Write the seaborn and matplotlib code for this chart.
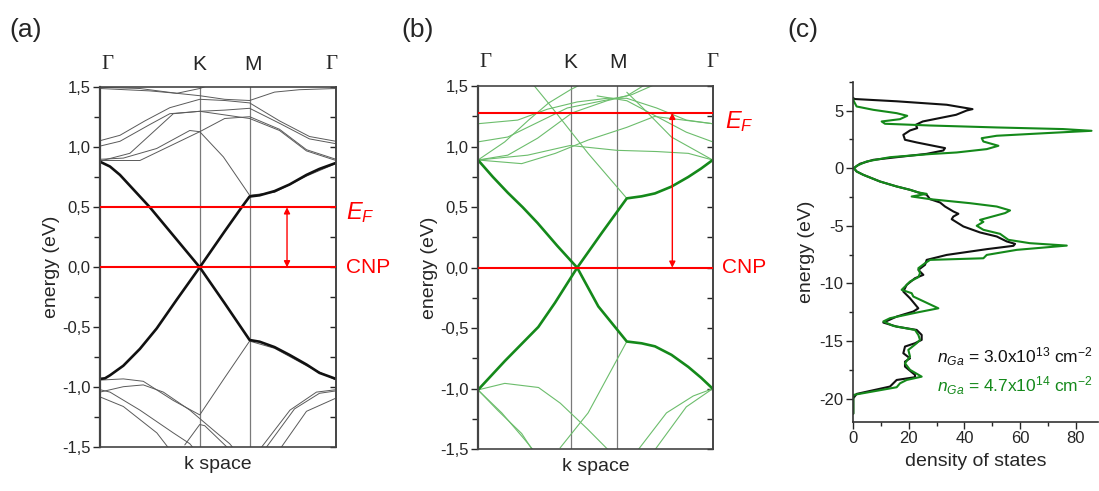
import numpy as np
import pandas as pd
import matplotlib
matplotlib.use('Agg')
import matplotlib.pyplot as plt
from matplotlib.ticker import MultipleLocator
import seaborn as sns

# path: Gamma=0, K=1, M=1.5, Gamma=2.366
kG2 = 2.366

# ---- panel (a) bands, 3.0e13 (k, E) ----
a_cb_k = [0, 0.1, 0.2, 0.3, 0.5, 0.75, 1.0, 1.25, 1.42, 1.5, 1.6, 1.75, 1.9, 2.07, 2.2, 2.366]
a_cb_E = [0.88, 0.84, 0.77, 0.68, 0.50, 0.25, 0.0, 0.30, 0.50, 0.59, 0.60, 0.635, 0.69, 0.77, 0.82, 0.87]
a_vb_k = [0, 0.05, 0.1, 0.234, 0.4, 0.568, 0.769, 1.0, 1.25, 1.5, 1.6, 1.75, 1.9, 2.07, 2.2, 2.366]
a_vb_E = [-0.93, -0.925, -0.90, -0.82, -0.68, -0.51, -0.27, 0.0, -0.30, -0.606, -0.62, -0.665, -0.73, -0.81, -0.88, -0.93]

a_thin = {
    't1': ([0, 0.2, 0.45, 0.7, 1.0, 1.25, 1.5, 1.8, 2.1, 2.366],
           [1.055, 1.10, 1.22, 1.33, 1.40, 1.39, 1.37, 1.22, 1.09, 1.05]),
    't2': ([0, 0.2, 0.5, 0.7, 1.0, 1.25, 1.5, 1.8, 2.1, 2.366],
           [1.01, 1.05, 1.19, 1.28, 1.30, 1.31, 1.325, 1.20, 1.07, 1.03]),
    't3': ([0, 0.234, 0.568, 0.9, 1.0, 1.237, 1.5, 1.75, 2.07, 2.366],
           [0.90, 0.91, 0.99, 1.14, 1.13, 0.92, 0.60, 0.625, 0.76, 0.865]),
    't4': ([0, 0.4, 0.75, 1.0, 1.25, 1.5, 1.8, 2.07, 2.366],
           [0.89, 0.89, 1.03, 1.13, 1.24, 1.255, 1.15, 0.98, 0.90]),
    't5': ([0, 0.5, 0.77, 1.0, 1.25, 1.5, 1.75, 2.0, 2.366],
           [1.49, 1.47, 1.45, 1.43, 1.40, 1.39, 1.46, 1.48, 1.49]),
    't6': ([0, 0.4, 0.77, 1.0, 1.1],
           [1.50, 1.49, 1.45, 1.49, 1.52]),
    't8': ([0, 0.3, 0.735, 1.0, 1.25, 1.5, 1.8, 2.07, 2.366],
           [0.885, 0.95, 1.28, 1.30, 1.27, 1.24, 1.14, 0.97, 0.89]),
    'l1': ([0, 0.234, 0.434, 0.735, 1.0, 1.25, 1.5, 1.75, 2.07, 2.366],
           [-0.94, -0.93, -0.95, -1.11, -1.23, -0.92, -0.615, -0.675, -0.82, -0.94]),
    'l2': ([0, 0.234, 0.434, 0.635, 0.9, 1.17, 1.30, 1.35],
           [-1.04, -0.995, -0.98, -1.04, -1.19, -1.38, -1.47, -1.52]),
    'l3': ([0, 0.1, 0.4, 0.735, 0.9, 0.95],
           [-1.02, -1.04, -1.19, -1.38, -1.47, -1.52]),
    'l4': ([0, 0.234, 0.57, 0.7],
           [-1.08, -1.16, -1.38, -1.52]),
    'l5': ([0.85, 1.0, 1.05, 1.3],
           [-1.48, -1.31, -1.32, -1.52]),
    'l6': ([1.60, 1.905, 2.17, 2.366], [-1.52, -1.19, -1.04, -1.02]),
    'l7': ([1.65, 1.95, 2.2, 2.366], [-1.52, -1.18, -1.05, -1.03]),
    'l8': ([1.80, 2.07, 2.366], [-1.52, -1.20, -1.09]),
}

# ---- panel (b) bands, 4.7e14 ----
b_cb_k = [0, 0.15, 0.3, 0.45, 0.6, 0.8, 1.0, 1.25, 1.5, 1.65, 1.784, 1.95, 2.12, 2.25, 2.366]
b_cb_E = [0.89, 0.75, 0.62, 0.50, 0.37, 0.18, 0.0, 0.29, 0.573, 0.59, 0.614, 0.67, 0.75, 0.82, 0.89]
b_vb_k = [0, 0.136, 0.272, 0.44, 0.608, 0.776, 1.0, 1.213, 1.5, 1.65, 1.784, 1.95, 2.12, 2.25, 2.366]
b_vb_E = [-1.01, -0.89, -0.77, -0.63, -0.49, -0.29, 0.0, -0.32, -0.61, -0.625, -0.65, -0.72, -0.82, -0.91, -1.0]

b_thin = {
    't1': ([0, 0.27, 0.51, 0.71, 0.93, 1.05], [0.89, 1.04, 1.22, 1.36, 1.47, 1.52]),
    't2': ([0.55, 0.71, 1.11, 1.5], [1.52, 1.36, 0.945, 0.573]),
    't3': ([0, 0.44, 0.78, 1.11, 1.5, 1.78, 2.366], [0.89, 0.86, 0.945, 1.055, 1.16, 1.25, 1.19]),
    't4': ([0, 0.4, 0.7, 1.0, 1.3, 1.5, 1.8, 2.1, 2.366], [1.19, 1.22, 1.31, 1.37, 1.40, 1.40, 1.32, 1.22, 1.19]),
    't5': ([0, 0.3, 0.6, 0.9, 1.2, 1.5, 1.7], [1.04, 1.08, 1.2, 1.32, 1.37, 1.42, 1.52]),
    't6': ([0, 0.3, 0.6, 0.95, 1.3, 1.55, 1.8], [0.89, 0.93, 1.07, 1.28, 1.38, 1.43, 1.52]),
    't7': ([1.5, 1.65, 1.95, 2.366], [1.45, 1.33, 1.08, 0.89]),
    't8': ([1.2, 1.5, 1.8, 2.1, 2.366], [1.42, 1.38, 1.25, 1.12, 1.04]),
    't9': ([0, 0.5, 0.93, 1.4, 1.8, 2.12, 2.366], [0.89, 0.93, 1.01, 0.97, 0.96, 0.945, 0.89]),
    'l1': ([0, 0.27, 0.61, 0.83, 1.1, 1.33], [-1.01, -0.956, -0.99, -1.12, -1.33, -1.52]),
    'l2': ([0, 0.2, 0.44, 0.56], [-1.01, -1.18, -1.37, -1.52]),
    'l3': ([0, 0.24, 0.47, 0.57], [-1.01, -1.20, -1.42, -1.52]),
    'l4': ([0.827, 1.11, 1.5], [-1.49, -1.20, -0.61]),
    'l5': ([1.60, 1.90, 2.17, 2.366], [-1.52, -1.20, -1.06, -1.0]),
    'l6': ([1.77, 2.10, 2.366], [-1.52, -1.15, -1.0]),
}

ytick_vals = [-1.5, -1.0, -0.5, 0.0, 0.5, 1.0, 1.5]
ytick_text = ['-1,5', '-1,0', '-0,5', '0,0', '0,5', '1,0', '1,5']

# ---- panel (c) DOS ----
dos_black_E = [6.1, 6.0, 5.8, 5.5, 5.12, 5.0, 4.63, 4.34, 4.05, 3.76, 3.47, 3.27, 2.89, 2.46, 2.23,
               1.94, 1.74, 1.53, 1.24, 0.95, 0.72, 0.38, 0.0, -0.29, -0.58, -1.16, -1.59, -1.88,
               -2.11, -2.31, -2.69, -2.98, -3.33, -3.76, -3.96, -4.2, -4.43, -5.06, -5.58, -5.93,
               -6.36, -6.57, -6.74, -7.03, -7.53, -7.96, -8.39, -8.83, -9.26, -9.55, -10.13,
               -10.71, -11.29, -12.16, -12.44, -12.88, -13.4, -13.75, -14.04, -14.47, -14.9,
               -15.19, -15.48, -16.06, -16.5, -16.79, -17.22, -17.94, -18.14, -18.38, -18.95,
               -19.59, -19.97, -21.3]
dos_black = [0, 0.3, 15.6, 33.6, 42.9, 40.8, 37, 31, 25, 22.5, 23, 20.4, 18, 18.6, 22.8,
             28.8, 33, 32.4, 26.4, 15.6, 7.2, 2.4, 0.2, 1.2, 3.6, 9.6, 15.6, 20.4,
             23.4, 26.4, 27.6, 31.2, 33, 36, 37.8, 36, 35.4, 39.6, 45.6, 51.6,
             55.2, 58.2, 57.6, 48, 33.6, 26.4, 25.8, 23.4, 25.2, 22.2, 19.2,
             18, 20.4, 23.4, 21.6, 15.6, 10.8, 15.6, 22.8, 24.6, 24.6,
             22.2, 18.6, 18, 20.4, 18.6, 18.6, 22.2, 22.2, 15.6, 13.2,
             1.2, 0, 0]

dos_green_E = [6.0, 5.8, 5.35, 5.06, 4.77, 4.54, 4.25, 4.05, 3.85, 3.70, 3.53, 3.39, 3.24, 3.04,
               2.81, 2.6, 2.31, 1.94, 1.65, 1.36, 1.22, 0.95, 0.58, 0.2, 0.0, -0.29, -0.58,
               -1.16, -1.59, -1.88, -2.11, -2.23, -2.46, -2.69, -3.04, -3.33, -3.67, -3.9,
               -4.49, -4.66, -5.0, -5.35, -5.7, -6.22, -6.51, -6.72, -7.09, -7.53, -7.82,
               -7.96, -8.25, -8.68, -9.12, -9.46, -9.84, -10.56, -10.85, -11.14, -12.16,
               -12.53, -13.02, -13.3, -13.69, -14.04, -14.47, -14.9, -15.19, -15.77, -16.35,
               -16.93, -17.5, -18.09, -18.38, -18.67, -19.01, -19.68, -21.3]
dos_green = [0, 0.2, 1.2, 7.2, 15.6, 19.4, 16.8, 10.2, 11.4, 27.6, 51.6, 75.5, 85.7, 69.5,
             51.6, 46.2, 46.8, 52.2, 48, 37.2, 27.6, 13.2, 4.8, 1.2, 0.2, 1.2, 3.6,
             9.6, 15.6, 20.4, 23.4, 26.4, 21, 27.6, 42, 51.6, 56.4, 54.6,
             45.6, 46.8, 44.4, 46.8, 52.8, 55.8, 63.5, 76.8, 58.8, 48, 46.8,
             27.6, 25.8, 23.4, 24, 23.4, 20.4, 17.4, 21, 21.6, 30.6,
             22.8, 13.2, 10.8, 14.4, 22.2, 23.4, 24, 22.8, 19.8, 20.4,
             18.6, 20.4, 24.6, 19.2, 16.8, 15.6, 0, 0]

green_dark = '#14891a'
green_light = '#6cbd6c'

sns.set_style('ticks')
plt.rcParams['font.family'] = ['Liberation Sans', 'DejaVu Sans']
plt.rcParams['mathtext.fontset'] = 'custom'
plt.rcParams['mathtext.rm'] = 'Liberation Sans'
plt.rcParams['mathtext.it'] = 'Liberation Sans:italic'


def band_frame(bands):
    rows = []
    for name, (ks, es) in bands.items():
        for k, e in zip(ks, es):
            rows.append((name, k, e))
    return pd.DataFrame(rows, columns=['band', 'k', 'E'])


def style_band_axes(ax, vlines, labels):
    ax.set_xlim(0, kG2)
    ax.set_ylim(-1.5, 1.5)
    ax.set_xticks([])
    ax.set_yticks(ytick_vals)
    ax.set_yticklabels(ytick_text)
    ax.yaxis.set_minor_locator(MultipleLocator(0.25))
    ax.tick_params(axis='y', which='major', direction='out', length=5, width=1, labelsize=12, pad=2)
    ax.tick_params(axis='y', which='minor', direction='out', length=4, width=1)
    for s in ax.spines.values():
        s.set_color('#444444')
        s.set_linewidth(1.2)
        s.set_visible(True)
    ax.spines['left'].set_linewidth(1.6)
    sec = ax.secondary_yaxis('right')
    sec.set_yticks(ytick_vals)
    sec.yaxis.set_minor_locator(MultipleLocator(0.25))
    sec.tick_params(which='both', direction='in', length=4, width=1, labelright=False)
    sec.spines['right'].set_color('#444444')
    sec.spines['right'].set_linewidth(1.2)
    for x in vlines:
        ax.axvline(x, color='#7a7a7a', lw=0.9, zorder=1)
    for x, t in labels:
        fam = ['Liberation Serif'] if t == 'Γ' else ['Liberation Sans']
        ax.text(x, 1.064, t, transform=ax.get_xaxis_transform(), ha='center', va='center',
                fontsize=15, family=fam)
    ax.set_xlabel('k space', fontsize=14, labelpad=6)
    ax.set_ylabel('energy (eV)', fontsize=14, labelpad=1)


fig = plt.figure(figsize=(10.99, 4.91), dpi=100)
axa = fig.add_axes([100 / 1099, 1 - 447.3 / 491, 236 / 1099, 360 / 491])
axb = fig.add_axes([478 / 1099, 1 - 449.2 / 491, 234.7 / 1099, 363 / 491])
axc = fig.add_axes([853.3 / 1099, 1 - 421.7 / 491, 244.6 / 1099, 340 / 491])

# (a)
sns.lineplot(data=band_frame(a_thin), x='k', y='E', units='band', estimator=None, sort=False,
             color='#5a5a5a', lw=0.7, ax=axa, legend=False)
for ks, es in [(a_cb_k, a_cb_E), (a_vb_k, a_vb_E)]:
    sns.lineplot(x=ks, y=es, sort=False, estimator=None, color='#111111', lw=1.9, ax=axa)
axa.axhline(0.5, color='red', lw=1.5, zorder=3)
axa.axhline(0.0, color='red', lw=1.5, zorder=3)
axa.annotate('', xy=(1.875, 0.0), xytext=(1.875, 0.5),
             arrowprops=dict(arrowstyle='<|-|>', color='red', lw=1, mutation_scale=9, shrinkA=0, shrinkB=0))
style_band_axes(axa, [1.0, 1.5], [(0.075, 'Γ'), (1.0, 'K'), (1.534, 'M'), (2.316, 'Γ')])
axa.text(2.466, 0.46, r'$E_F$', color='red', fontsize=17, ha='left', va='center', clip_on=False)
axa.text(2.466, 0.0, 'CNP', color='red', fontsize=15, ha='left', va='center', clip_on=False)

# (b)
sns.lineplot(data=band_frame(b_thin), x='k', y='E', units='band', estimator=None, sort=False,
             color=green_light, lw=0.8, ax=axb, legend=False)
for ks, es in [(b_cb_k, b_cb_E), (b_vb_k, b_vb_E)]:
    sns.lineplot(x=ks, y=es, sort=False, estimator=None, color=green_dark, lw=1.9, ax=axb)
axb.axhline(1.28, color='red', lw=1.5, zorder=3)
axb.axhline(0.0, color='red', lw=1.5, zorder=3)
axb.annotate('', xy=(1.959, 0.0), xytext=(1.959, 1.28),
             arrowprops=dict(arrowstyle='<|-|>', color='red', lw=1, mutation_scale=9, shrinkA=0, shrinkB=0))
style_band_axes(axb, [0.935, 1.398], [(0.07, 'Γ'), (0.927, 'K'), (1.41, 'M'), (2.36, 'Γ')])
axb.text(2.49, 1.21, r'$E_F$', color='red', fontsize=17, ha='left', va='center', clip_on=False)
axb.text(2.46, 0.0, 'CNP', color='red', fontsize=15, ha='left', va='center', clip_on=False)

# (c)
sns.lineplot(x=dos_black, y=dos_black_E, sort=False, estimator=None, color='#111111', lw=1.5, ax=axc)
sns.lineplot(x=dos_green, y=dos_green_E, sort=False, estimator=None, color=green_dark, lw=1.5, ax=axc)
axc.set_xlim(0, 88)
axc.set_ylim(-22, 7.5)
axc.set_xticks([0, 20, 40, 60, 80])
axc.set_yticks([-20, -15, -10, -5, 0, 5])
axc.set_yticklabels(['-20', '-15', '-10', '-5', '0', '5'])
axc.xaxis.set_minor_locator(MultipleLocator(10))
axc.yaxis.set_minor_locator(MultipleLocator(2.5))
axc.tick_params(which='major', direction='out', length=5, width=1, labelsize=12, pad=2)
axc.tick_params(which='minor', direction='out', length=3, width=1)
sns.despine(ax=axc)
for s in ['left', 'bottom']:
    axc.spines[s].set_color('#333333')
    axc.spines[s].set_linewidth(1.2)
axc.set_xlabel('density of states', fontsize=14, labelpad=5)
axc.set_ylabel('energy (eV)', fontsize=14, labelpad=3)
axc.text(30, -16.4, r'$n_{Ga}$ = 3.0x10$^{13}$ cm$^{-2}$', color='#111111', fontsize=12.5, ha='left', va='center')
axc.text(30, -18.9, r'$n_{Ga}$ = 4.7x10$^{14}$ cm$^{-2}$', color=green_dark, fontsize=12.5, ha='left', va='center')

fig.text(26 / 1099, 1 - 30 / 491, '(a)', fontsize=19, ha='center', va='center')
fig.text(418 / 1099, 1 - 30 / 491, '(b)', fontsize=19, ha='center', va='center')
fig.text(803 / 1099, 1 - 30 / 491, '(c)', fontsize=19, ha='center', va='center')

fig.savefig('out.png', dpi=100)
